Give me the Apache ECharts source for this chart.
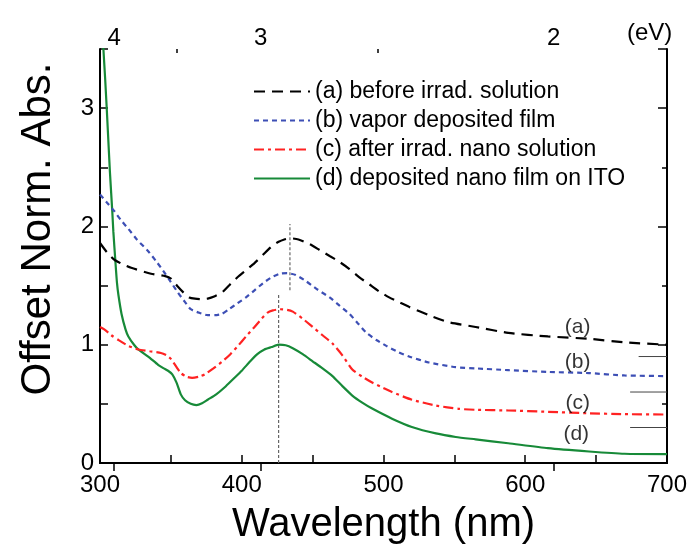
<!DOCTYPE html>
<html>
<head>
<meta charset="utf-8">
<script src="https://cdn.jsdelivr.net/npm/echarts@6/dist/echarts.min.js"></script>
<style>
  html, body { margin: 0; padding: 0; background: #fff; }
  #chart { width: 690px; height: 550px; }
</style>
</head>
<body>
<div id="chart"></div>
<script>
// Absorption spectra, offset by 0.3 per trace
const seriesNames = [
  '(a) before irrad. solution',
  '(b) vapor deposited film',
  '(c) after irrad. nano solution',
  '(d) deposited nano film on ITO'
];
const curveTags = ['(a)', '(b)', '(c)', '(d)'];

const waveA = [300, 305, 310, 316, 322, 336, 346, 350, 355, 359, 363, 367, 372, 376, 381, 386, 391, 397, 403, 409, 415, 421, 426, 430, 434, 440, 448, 455, 462, 469, 476, 483, 490, 497, 504, 511, 518, 532, 546, 565, 588, 616, 645, 670, 700];
const absA  = [1.86, 1.78, 1.72, 1.68, 1.65, 1.60, 1.58, 1.56, 1.49, 1.44, 1.40, 1.39, 1.385, 1.39, 1.41, 1.44, 1.50, 1.57, 1.63, 1.69, 1.76, 1.83, 1.87, 1.89, 1.90, 1.89, 1.85, 1.80, 1.75, 1.70, 1.64, 1.57, 1.51, 1.45, 1.40, 1.36, 1.32, 1.25, 1.19, 1.15, 1.10, 1.07, 1.05, 1.02, 1.00];

const waveB = [300, 305, 310, 315, 320, 326, 334, 340, 346, 350, 355, 360, 364, 370, 376, 381, 386, 391, 397, 403, 409, 415, 421, 427, 432, 438, 445, 453, 462, 469, 476, 482, 488, 495, 502, 510, 518, 532, 551, 565, 588, 616, 645, 670, 700];
const absB  = [2.27, 2.20, 2.13, 2.05, 1.98, 1.89, 1.79, 1.70, 1.60, 1.53, 1.44, 1.36, 1.30, 1.27, 1.25, 1.25, 1.26, 1.30, 1.35, 1.40, 1.46, 1.52, 1.57, 1.60, 1.605, 1.59, 1.54, 1.47, 1.40, 1.33, 1.26, 1.18, 1.10, 1.04, 0.99, 0.94, 0.90, 0.85, 0.81, 0.80, 0.785, 0.77, 0.76, 0.74, 0.735];

const waveC = [300, 303, 308, 313, 320, 327, 335, 343, 347, 350, 354, 357, 361, 365, 370, 374, 380, 386, 392, 397, 403, 409, 414, 418, 422, 427, 432, 436, 443, 450, 457, 464, 471, 478, 485, 492, 499, 506, 520, 537, 553, 565, 588, 616, 645, 670, 700];
const absC  = [1.15, 1.13, 1.08, 1.04, 0.99, 0.96, 0.945, 0.93, 0.91, 0.88, 0.81, 0.76, 0.73, 0.72, 0.73, 0.75, 0.80, 0.855, 0.92, 0.985, 1.07, 1.15, 1.22, 1.27, 1.29, 1.30, 1.295, 1.28, 1.22, 1.15, 1.08, 1.01, 0.91, 0.79, 0.73, 0.68, 0.64, 0.60, 0.535, 0.486, 0.458, 0.45, 0.444, 0.433, 0.42, 0.413, 0.41];

const waveD = [300, 302.4, 304.7, 307, 308.7, 309.4, 311, 312, 313, 315.2, 318, 320, 324, 327, 334, 341, 345, 348, 351, 354, 357, 360, 364, 368, 372, 376, 382, 388, 394, 400, 406, 411, 416, 421, 426, 431, 436, 443, 450, 457, 464, 471, 478, 485, 492, 506, 520, 537, 551, 565, 588, 616, 645, 670, 700];
const absD  = [3.80, 3.50, 3.01, 2.46, 2.12, 1.96, 1.68, 1.52, 1.42, 1.26, 1.13, 1.07, 1.00, 0.96, 0.90, 0.83, 0.80, 0.78, 0.75, 0.68, 0.58, 0.53, 0.50, 0.49, 0.505, 0.535, 0.58, 0.64, 0.71, 0.78, 0.86, 0.92, 0.96, 0.98, 1.00, 0.995, 0.97, 0.92, 0.86, 0.80, 0.735, 0.65, 0.57, 0.51, 0.46, 0.375, 0.305, 0.25, 0.22, 0.20, 0.167, 0.125, 0.097, 0.078, 0.075];

// Tag positions for (a)-(d) labels near the right edge
const tagWave = [637, 637, 637, 636];
const tagAbs  = [1.15, 0.85, 0.505, 0.244];

// Baseline markers of the offset traces
const baseLevels = [0.9, 0.6, 0.3];
const baseStart  = [680, 674, 674];

// Peak guides
const peakWave  = [434, 426];
const peakFrom  = [1.46, 0];
const peakTo    = [2.02, 1.42];

// Photon-energy ticks on the top axis
const evMajor = [4, 3, 2];
const evMinor = [3.5, 2.5];
const HC = 1240; // eV·nm

const FONT = '"Liberation Sans", Arial, Helvetica, sans-serif';

function pairs(xs, ys) { return xs.map((x, i) => [x, ys[i]]); }

const colors = ['#000000', '#3d4fb5', '#ff2222', '#178a38'];
const dashes = [[11, 7], [5, 4], [10, 4, 3, 4], 'solid'];
const waves = [waveA, waveB, waveC, waveD];
const absVals = [absA, absB, absC, absD];

const series = [];
seriesNames.forEach((name, i) => {
  series.push({
    name: name,
    type: 'line',
    data: pairs(waves[i], absVals[i]),
    symbol: 'none',
    smooth: 0.2,
    clip: true,
    z: 5 + (3 - i),
    lineStyle: { color: colors[i], width: 2.2, type: dashes[i] },
    itemStyle: { color: colors[i] }
  });
});

peakWave.forEach((w, i) => {
  series.push({
    type: 'line',
    silent: true,
    symbol: 'none',
    data: [[w, peakFrom[i]], [w, peakTo[i]]],
    lineStyle: { color: '#666', width: 1.2, type: [3, 2] },
    z: 2
  });
});

baseLevels.forEach((v, i) => {
  series.push({
    type: 'line',
    silent: true,
    symbol: 'none',
    data: [[baseStart[i], v], [700, v]],
    lineStyle: { color: '#444', width: 1 },
    z: 2
  });
});

series.push({
  type: 'scatter',
  silent: true,
  symbolSize: 0,
  data: tagWave.map((w, i) => ({ value: [w, tagAbs[i]], name: curveTags[i] })),
  label: {
    show: true,
    position: 'inside',
    formatter: p => p.name,
    fontFamily: FONT,
    fontSize: 21,
    color: '#000'
  },
  z: 10
});

const axisLineStyle = { color: '#000', width: 2 };

const option = {
  animation: false,
  backgroundColor: '#fff',
  grid: { left: 100, right: 21, top: 49, bottom: 82, containLabel: false },
  legend: {
    data: seriesNames,
    orient: 'vertical',
    left: 248,
    top: 72,
    itemWidth: 56,
    itemHeight: 14,
    itemGap: 0,
    selectedMode: false,
    itemStyle: { opacity: 0 },
    textStyle: { fontFamily: FONT, fontSize: 23, lineHeight: 29, color: '#000' }
  },
  xAxis: [
    {
      type: 'value', position: 'bottom', min: 300, max: 700, interval: 50,
      name: 'Wavelength (nm)', nameLocation: 'middle', nameGap: 42,
      nameTextStyle: { fontFamily: FONT, fontSize: 40, color: '#000' },
      axisLine: { show: true, lineStyle: axisLineStyle },
      axisTick: { inside: true, length: 8, lineStyle: { color: '#000', width: 1.5 } },
      axisLabel: {
        margin: 10, fontFamily: FONT, fontSize: 24, color: '#000',
        formatter: v => (v % 100 === 0 ? String(v) : '')
      },
      splitLine: { show: false }
    },
    {
      type: 'value', position: 'top', min: 300, max: 700,
      axisLine: { show: true, lineStyle: axisLineStyle },
      axisTick: { inside: true, length: 8, customValues: evMajor.map(e => HC / e), lineStyle: { color: '#000', width: 1.5 } },
      axisLabel: {
        margin: -1, fontFamily: FONT, fontSize: 24, color: '#000',
        customValues: evMajor.map(e => HC / e),
        formatter: v => String(Math.round(HC / v))
      },
      splitLine: { show: false }
    },
    {
      type: 'value', position: 'top', min: 300, max: 700,
      axisLine: { show: false },
      axisTick: { inside: true, length: 4, customValues: evMinor.map(e => HC / e), lineStyle: { color: '#000', width: 1.5 } },
      axisLabel: { show: false },
      splitLine: { show: false }
    }
  ],
  yAxis: [
    {
      type: 'value', position: 'left', min: 0, max: 3.5, interval: 0.5,
      axisLine: { show: true, lineStyle: axisLineStyle },
      axisTick: { inside: true, length: 8, lineStyle: { color: '#000', width: 1.5 } },
      axisLabel: {
        margin: 6, fontFamily: FONT, fontSize: 24, color: '#000',
        formatter: v => (v % 1 === 0 ? String(v) : '')
      },
      splitLine: { show: false }
    },
    {
      type: 'value', position: 'right', min: 0, max: 3.5, interval: 1,
      axisLine: { show: true, lineStyle: axisLineStyle },
      axisTick: { inside: true, length: 9, lineStyle: { color: '#000', width: 1.5 } },
      minorTick: { show: true, splitNumber: 2, length: 5, lineStyle: { color: '#000', width: 1.5 } },
      axisLabel: { show: false },
      splitLine: { show: false }
    }
  ],
  graphic: [
    {
      type: 'text', left: 627, top: 21,
      style: { text: '(eV)', fontFamily: FONT, fontSize: 24, fill: '#000' }
    },
    {
      type: 'text', x: 38, y: 229, rotation: Math.PI / 2,
      style: {
        text: 'Offset Norm. Abs.', fontFamily: FONT, fontSize: 42, fill: '#000',
        align: 'center', verticalAlign: 'middle'
      }
    }
  ],
  series: series
};

const chart = echarts.init(document.getElementById('chart'), null, { renderer: 'canvas' });
chart.setOption(option);
</script>
</body>
</html>
